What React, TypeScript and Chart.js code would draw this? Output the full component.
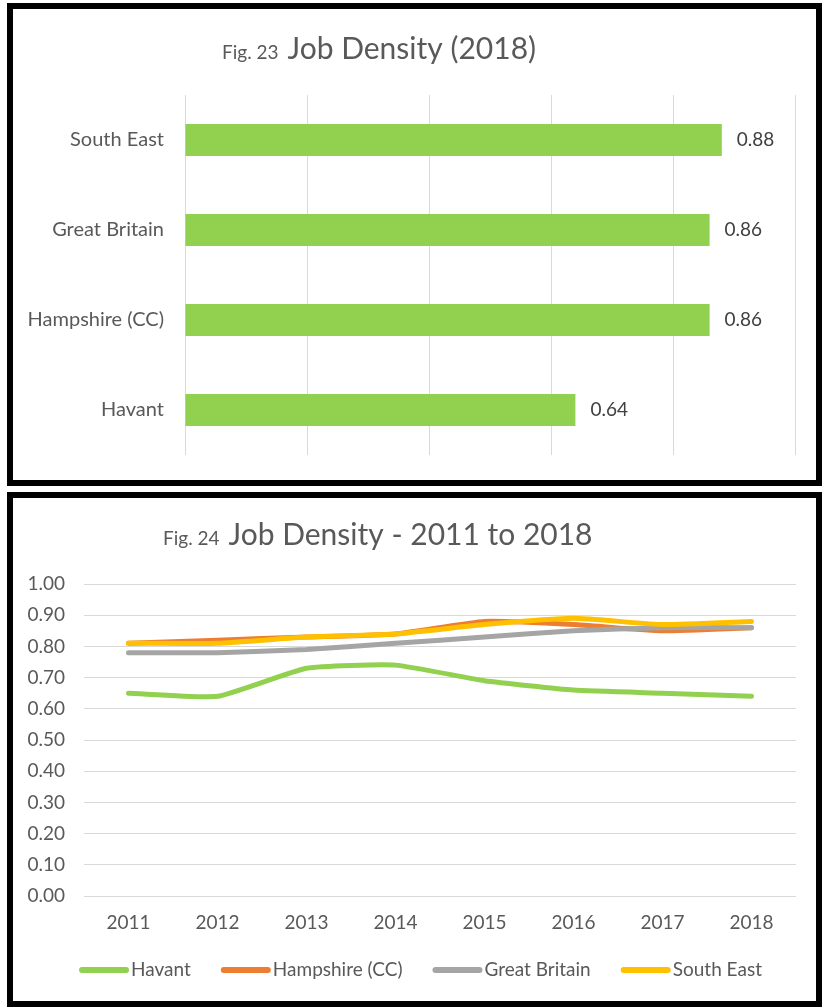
import React, { useEffect, useRef } from "react";
import { Chart, registerables } from "chart.js";

Chart.register(...registerables);

// Fig. 23 – job density by area, 2018
const barCategories = ["South East", "Great Britain", "Hampshire (CC)", "Havant"];
const barValues = [0.88, 0.86, 0.86, 0.64];

// Fig. 24 – job density over time
const years = ["2011", "2012", "2013", "2014", "2015", "2016", "2017", "2018"];
const havant = [0.65, 0.64, 0.73, 0.74, 0.69, 0.66, 0.65, 0.64];
const hampshire = [0.81, 0.82, 0.83, 0.84, 0.88, 0.87, 0.85, 0.86];
const greatBritain = [0.78, 0.78, 0.79, 0.81, 0.83, 0.85, 0.86, 0.86];
const southEast = [0.81, 0.81, 0.83, 0.84, 0.87, 0.89, 0.87, 0.88];
const seriesNames = ["Havant", "Hampshire (CC)", "Great Britain", "South East"];
const seriesColors = ["#92d050", "#ed7d31", "#a5a5a5", "#ffc000"];

const FONT = "Lato, 'Open Sans', sans-serif";
const TEXT = "#595959";
const GRID = "#d9d9d9";

// Draws "Fig. NN" in a small size followed by the heading in a large size
function titlePlugin(fig: string, heading: string, x: number, baseline: number) {
  return {
    id: "mixedTitle",
    afterDraw(chart: any) {
      const ctx = chart.ctx;
      ctx.save();
      ctx.fillStyle = TEXT;
      ctx.textBaseline = "alphabetic";
      ctx.textAlign = "left";
      ctx.font = `19px ${FONT}`;
      ctx.fillText(fig, x, baseline);
      const w = ctx.measureText(fig).width;
      ctx.font = `30px ${FONT}`;
      ctx.fillText(heading, x + w + 9, baseline);
      ctx.restore();
    },
  };
}

const barLabelPlugin = {
  id: "barLabels",
  afterDatasetsDraw(chart: any) {
    const ctx = chart.ctx;
    const meta = chart.getDatasetMeta(0);
    const data = chart.data.datasets[0].data as number[];
    ctx.save();
    ctx.font = `19px ${FONT}`;
    ctx.fillStyle = "#404040";
    ctx.textAlign = "left";
    ctx.textBaseline = "middle";
    meta.data.forEach((bar: any, i: number) => {
      ctx.fillText(data[i].toFixed(2), bar.x + 15, bar.y);
    });
    ctx.restore();
  },
};

const lineLegendPlugin = {
  id: "lineLegend",
  afterDraw(chart: any) {
    const ctx = chart.ctx;
    const y = 472;
    const sample = 50;
    const textGap = 2;
    const itemGap = 30;
    ctx.save();
    ctx.font = `19px ${FONT}`;
    const items = chart.data.datasets.map((ds: any) => ({
      label: ds.label as string,
      color: ds.borderColor as string,
      w: ctx.measureText(ds.label).width,
    }));
    const total =
      items.reduce((s: number, it: any) => s + sample + textGap + it.w, 0) +
      itemGap * (items.length - 1);
    let x = chart.width / 2 + 6 - total / 2;
    items.forEach((it: any) => {
      ctx.strokeStyle = it.color;
      ctx.lineWidth = 6;
      ctx.lineCap = "round";
      ctx.beginPath();
      ctx.moveTo(x + 3, y);
      ctx.lineTo(x + sample - 3, y);
      ctx.stroke();
      ctx.fillStyle = TEXT;
      ctx.textAlign = "left";
      ctx.textBaseline = "middle";
      ctx.fillText(it.label, x + sample + textGap, y);
      x += sample + textGap + it.w + itemGap;
    });
    ctx.restore();
  },
};

function BarPanel() {
  const ref = useRef<HTMLCanvasElement>(null);
  useEffect(() => {
    const chart = new Chart(ref.current!, {
      type: "bar",
      data: {
        labels: barCategories,
        datasets: [
          {
            data: barValues,
            backgroundColor: "#92d050",
            barPercentage: 0.356,
            categoryPercentage: 1,
          },
        ],
      },
      options: {
        indexAxis: "y",
        animation: false,
        responsive: false,
        maintainAspectRatio: false,
        layout: { autoPadding: false, padding: { top: 86, right: 21, bottom: 25, left: 0 } },
        plugins: { legend: { display: false }, tooltip: { enabled: false } },
        scales: {
          x: {
            min: 0,
            max: 1,
            ticks: { display: false, stepSize: 0.2 },
            grid: { color: GRID, drawTicks: false },
            border: { display: false },
          },
          y: {
            ticks: { font: { family: FONT, size: 20 }, color: TEXT, padding: 21 },
            grid: { display: false, drawTicks: false },
            border: { display: false },
            afterFit: (s: any) => {
              s.width = 172;
              s.paddingTop = 0;
              s.paddingBottom = 0;
            },
          },
        },
      },
      plugins: [barLabelPlugin, titlePlugin("Fig. 23", "Job Density (2018)", 209, 50)],
    } as any);
    return () => chart.destroy();
  }, []);
  return <canvas ref={ref} width={803} height={471} style={{ display: "block" }} />;
}

function LinePanel() {
  const ref = useRef<HTMLCanvasElement>(null);
  useEffect(() => {
    const series = [havant, hampshire, greatBritain, southEast];
    const chart = new Chart(ref.current!, {
      type: "line",
      data: {
        labels: years,
        datasets: series.map((values, i) => ({
          label: seriesNames[i],
          data: values,
          borderColor: seriesColors[i],
          backgroundColor: seriesColors[i],
          borderWidth: 5,
          borderCapStyle: "round",
          borderJoinStyle: "round",
          pointRadius: 0,
          tension: 0.15,
          order: series.length - i,
        })),
      },
      options: {
        animation: false,
        responsive: false,
        maintainAspectRatio: false,
        layout: { autoPadding: false, padding: { top: 86, right: 20, bottom: 65, left: 0 } },
        plugins: { legend: { display: false }, tooltip: { enabled: false } },
        scales: {
          y: {
            min: 0,
            max: 1,
            ticks: {
              stepSize: 0.1,
              callback: (v: any) => Number(v).toFixed(2),
              font: { family: FONT, size: 19 },
              color: TEXT,
              padding: 19,
            },
            grid: { color: GRID, drawTicks: false },
            border: { display: false },
            afterFit: (s: any) => {
              s.width = 71;
            },
          },
          x: {
            offset: true,
            ticks: { font: { family: FONT, size: 19 }, color: TEXT, padding: 15 },
            grid: { display: false, drawTicks: false },
            border: { display: false },
            afterFit: (s: any) => {
              s.height = 40;
            },
          },
        },
      },
      plugins: [lineLegendPlugin, titlePlugin("Fig. 24", "Job Density - 2011 to 2018", 150, 47)],
    } as any);
    return () => chart.destroy();
  }, []);
  return <canvas ref={ref} width={803} height={503} style={{ display: "block" }} />;
}

const panelStyle: React.CSSProperties = {
  position: "absolute",
  left: 7,
  width: 803,
  border: "6px solid #000",
  background: "#fff",
};

export default function App() {
  return (
    <div>
      <div style={{ ...panelStyle, top: 3, height: 471 }}>
        <BarPanel />
      </div>
      <div style={{ ...panelStyle, top: 492, height: 503 }}>
        <LinePanel />
      </div>
    </div>
  );
}
